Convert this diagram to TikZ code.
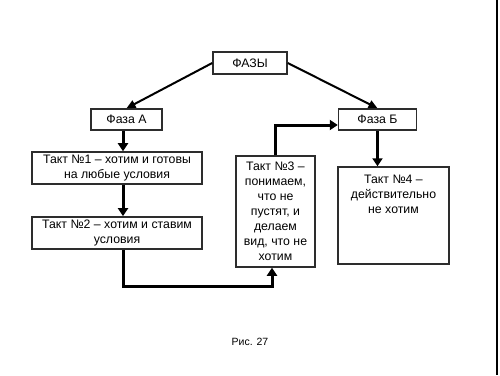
\documentclass[tikz,border=0pt]{standalone}
\usepackage{fontspec}
\setmainfont{Liberation Sans}
\definecolor{frame1}{RGB}{45, 45, 45}
\usetikzlibrary{arrows.meta, positioning}

\begin{document}
\begin{tikzpicture}[
  x=1pt, y=-1pt,
  box/.style={draw=frame1, line width=1.5pt, align=center, inner sep=3pt, font=\fontsize{12.3}{15}\selectfont},
  thinarr/.style={line width=2pt, -{Triangle[length=9pt, width=8pt]}},
  thickarr/.style={line width=3pt, -{Triangle[length=8pt, width=10pt]}}
]
  \useasboundingbox (0,0) rectangle (500,375);
  \node[box, minimum width=74pt, minimum height=22pt] (fazy) at (250,63) {ФАЗЫ};
  \node[box, minimum width=71pt, minimum height=21pt] (fazaA) at (126.5,119.5) {Фаза А};
  \node[box, minimum width=78pt, minimum height=21pt] (fazaB) at (377.5,119.5) {Фаза Б};
  \node[box, minimum width=170pt, minimum height=30pt] (takt1) at (117,168) {
    Такт №1 – хотим и готовы\\
    на любые условия
  };
  \node[box, minimum width=170pt, minimum height=30pt] (takt2) at (117,233) {
    Такт №2 – хотим и ставим\\
    условия
  };
  \node[box, minimum width=79pt, minimum height=111pt] (takt3) at (275.5,211.5) {
    Такт №3 –\\
    понимаем,\\
    что не\\
    пустят, и\\
    делаем\\
    вид, что не\\
    хотим
  };
  \node[box, minimum width=111pt, minimum height=97pt, inner sep=4pt] (takt4) at (393.5,215.5) {%
    \parbox[c][89pt][t]{100pt}{\centering\vspace*{4pt}
    Такт №4 –\\
    действительно\\
    не хотим}%
  };
  \node[font=\fontsize{10.5}{12}\selectfont] (ris) at (250,342) {Рис. 27};

  \draw[thinarr] (fazy.west) -- (fazaA.north);
  \draw[thinarr] (fazy.east) -- (fazaB.north);
  \draw[thickarr] ([xshift=-3.5pt]fazaA.south) -- ([xshift=-3.5pt]fazaA.south |- takt1.north);
  \draw[thickarr] ([xshift=6pt]takt1.south) -- ([xshift=6pt]takt2.north);
  \draw[thickarr] ([xshift=6pt]takt2.south) -- ++(0,37) -| ([xshift=-3.5pt]takt3.south);
  \draw[thickarr] (takt3.north) |- ([yshift=-5.5pt]fazaB.west);
  \draw[thickarr] (fazaB.south) -- (fazaB.south |- takt4.north);

  \draw[line width=1.5pt] (497,0) -- (497,375);
\end{tikzpicture}
\end{document}
